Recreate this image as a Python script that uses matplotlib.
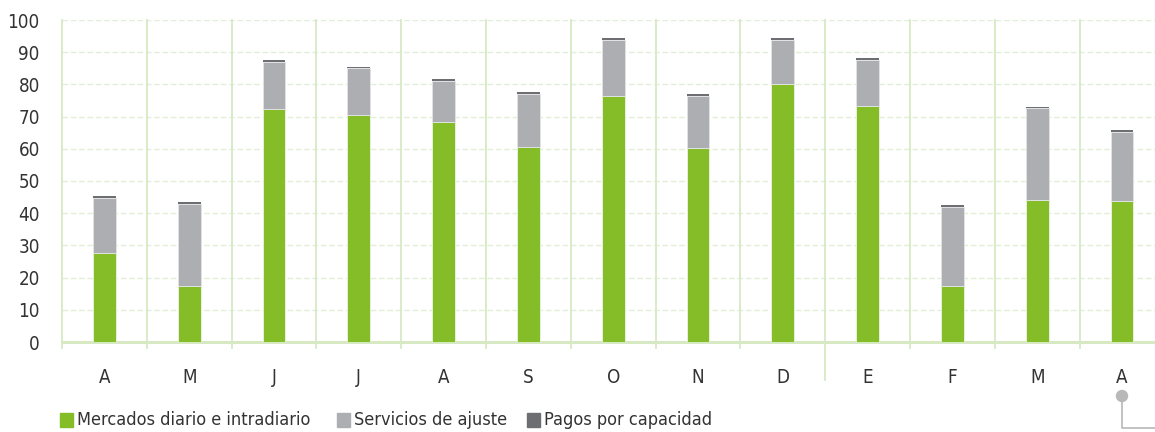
import matplotlib
matplotlib.use("Agg")
import matplotlib.pyplot as plt
from matplotlib.lines import Line2D
from matplotlib.patches import Rectangle, Ellipse

plt.rcParams['font.family'] = ['DejaVu Sans']
plt.rcParams['font.stretch'] = 'condensed'

months = ["A", "M", "J", "J", "A", "S", "O", "N", "D", "E", "F", "M", "A"]
mercados = [27.5, 17.5, 72.5, 70.6, 68.2, 60.7, 76.5, 60.2, 80.0, 73.4, 17.4, 44.2, 43.8]
servicios = [17.3, 25.4, 14.5, 14.4, 12.9, 16.4, 17.4, 16.3, 13.9, 14.3, 24.6, 28.4, 21.4]
pagos = [0.5, 0.5, 0.5, 0.5, 0.5, 0.5, 0.5, 0.5, 0.5, 0.5, 0.5, 0.5, 0.5]
legend_labels = ["Mercados diario e intradiario", "Servicios de ajuste", "Pagos por capacidad"]

GREEN = "#84bd28"
GRAY = "#adaeb1"
DARK = "#6d6e71"
GRID = "#d6e9c3"
DASH = "#e3eed8"
TEXT = "#333333"

W, H = 1155, 432
fig = plt.figure(figsize=(W / 100, H / 100), dpi=100)
ax = fig.add_axes([62 / W, (H - 342) / H, (W - 62) / W, 322 / H])

x = list(range(len(months)))
bw = 0.27
bottom2 = [m + s for m, s in zip(mercados, servicios)]
ax.bar(x, mercados, bw, color=GREEN, edgecolor="#eef3e6", linewidth=0.6, zorder=3)
ax.bar(x, servicios, bw, bottom=mercados, color=GRAY, edgecolor="#e4e4e6", linewidth=0.6, zorder=3)
ax.bar(x, pagos, bw, bottom=bottom2, color=DARK, linewidth=0, zorder=3)

ax.set_ylim(0, 100)
ax.set_xlim(-0.5, -0.5 + (W - 62) / 84.8)
ax.set_yticks(range(0, 101, 10))
ax.set_xticks(x)
ax.set_xticklabels(months)
ax.tick_params(axis="both", length=0, labelsize=13.5, colors=TEXT)
ax.tick_params(axis="x", pad=19)
ax.tick_params(axis="y", pad=16)

for s in ax.spines.values():
    s.set_visible(False)

# dashed horizontal grid
for v in range(10, 101, 10):
    ax.axhline(v, color=DASH, lw=1.0, ls=(0, (4, 2)), zorder=1)
ax.axhline(0, color=GRID, lw=2.2, zorder=2, clip_on=False)

# category separators, the year boundary runs further down
for i in range(len(months)):
    b = i - 0.5
    ymin = -1.9 if i != 9 else -11.8
    ax.plot([b, b], [ymin, 100], color=GRID, lw=1.3, zorder=1, clip_on=False)

# legend
handles_colors = [GREEN, GRAY, DARK]
lx = [60, 337, 527]
for c, xx, lab in zip(handles_colors, lx, legend_labels):
    fig.patches.append(Rectangle((xx / W, (H - 427) / H), 13 / W, 14 / H,
                                 transform=fig.transFigure, color=c))
    fig.text((xx + 17) / W, (H - 420) / H, lab, fontsize=13, color=TEXT,
             va="center", ha="left")

# corner marker
fig.lines.append(Line2D([1122 / W, 1122 / W, 1.0], [(H - 396) / H, (H - 428) / H, (H - 428) / H],
                        transform=fig.transFigure, color="#b8b8b8", lw=1.2))
fig.patches.append(Ellipse((1122 / W, (H - 396) / H), 11 / W, 11 / H, transform=fig.transFigure,
                           color="#b8b8b8"))

fig.savefig("out.png", dpi=100)
